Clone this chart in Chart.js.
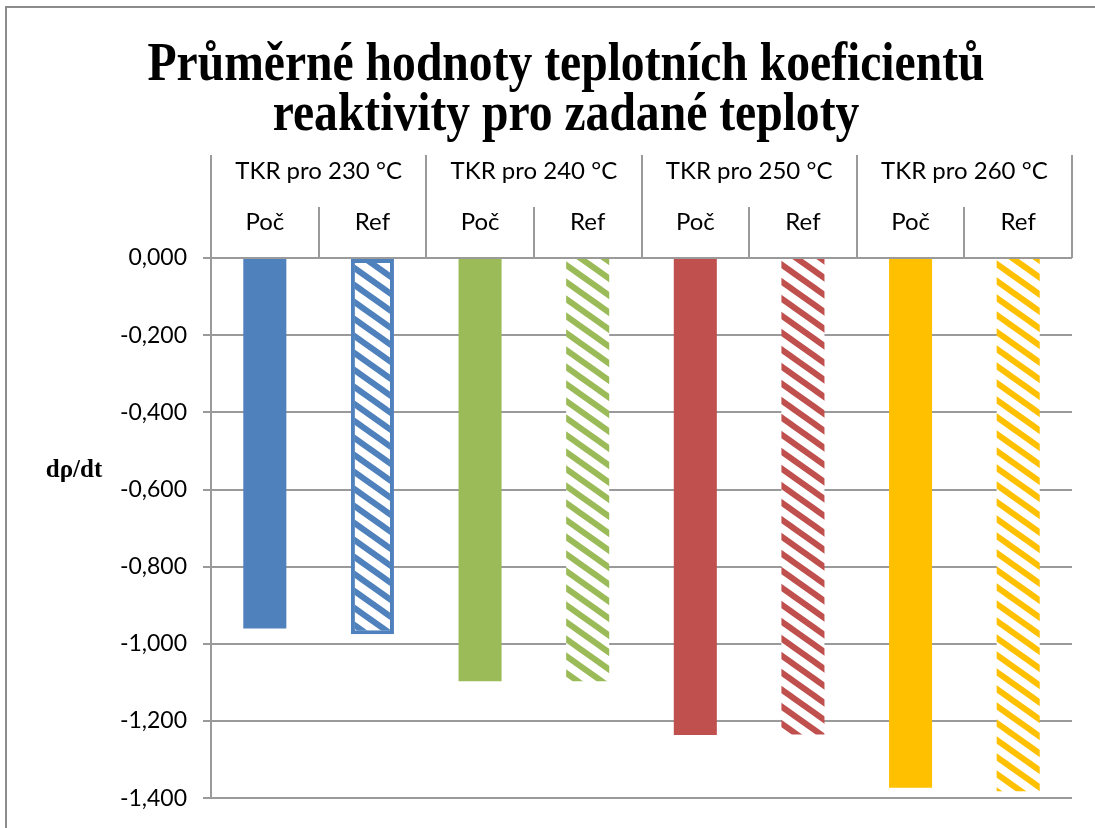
<!DOCTYPE html>
<html>
<head>
<meta charset="utf-8">
<script src="https://cdn.jsdelivr.net/npm/chart.js@4/dist/chart.umd.min.js"></script>
<style>
  html, body { margin:0; padding:0; background:#fff; }
  #wrap { position:relative; width:1095px; height:828px; }
</style>
</head>
<body>
<div id="wrap"><canvas id="c" width="1095" height="828"></canvas></div>
<script>
// ===== data =====
const titleLines = ['Průměrné hodnoty teplotních koeficientů', 'reaktivity pro zadané teploty'];
const yTitle = 'dρ/dt';
const groups = ['TKR pro 230 °C', 'TKR pro 240 °C', 'TKR pro 250 °C', 'TKR pro 260 °C'];
const series = ['Poč', 'Ref'];
const pocValues = [-0.960, -1.097, -1.236, -1.373];
const refValues = [-0.975, -1.097, -1.235, -1.382];
const groupColors = ['#4f81bd', '#9bbb59', '#c0504d', '#ffc000'];
const yMin = -1.4, yMax = 0, yStep = 0.2;

// diagonal hatch like Excel's wide downward diagonal
function hatch(color){
  const w = 24, h = 17;
  const cv = document.createElement('canvas');
  cv.width = w; cv.height = h;
  const g = cv.getContext('2d');
  g.fillStyle = '#fff'; g.fillRect(0,0,w,h);
  g.strokeStyle = color; g.lineWidth = 6;
  g.beginPath();
  // lines run past the tile so butt caps don't leave gaps at the seams
  [-w, 0, w].forEach(k => { g.moveTo(k - w, -h); g.lineTo(k + 2 * w, 2 * h); });
  g.stroke();
  return g.createPattern(cv, 'repeat');
}

const labels = [], values = [], fills = [], borders = [], bWidths = [];
groups.forEach((grp, i) => {
  labels.push(series[0]); values.push(pocValues[i]); fills.push(groupColors[i]);
  borders.push(groupColors[i]); bWidths.push(0);
  labels.push(series[1]); values.push(refValues[i]); fills.push(hatch(groupColors[i]));
  borders.push(groupColors[i]); bWidths.push(i === 0 ? 4 : 0);
});

const fmt = v => (Math.round(v * 1000) / 1000).toFixed(3).replace('.', ',').replace('-0,000', '0,000');
const AX = '#9a9a9a';

// title, y label, frame and the top category boxes
const decor = {
  id: 'decor',
  afterDraw(chart){
    const ctx = chart.ctx, a = chart.chartArea, x = chart.scales.x, x2 = chart.scales.x2;
    ctx.save();
    // frame
    ctx.strokeStyle = '#8c8c8c'; ctx.lineWidth = 2;
    ctx.beginPath(); ctx.moveTo(6, 828); ctx.lineTo(6, 7); ctx.lineTo(1095, 7); ctx.stroke();

    // category boxes
    const w = x.getPixelForValue(1) - x.getPixelForValue(0);
    const x0 = x.getPixelForValue(0) - w / 2;
    ctx.strokeStyle = AX; ctx.lineWidth = 2;
    ctx.beginPath();
    for (let k = 0; k <= labels.length; k++){
      const px = Math.round(x0 + k * w);
      ctx.moveTo(px, k % 2 === 0 ? x2.top : x.top);
      ctx.lineTo(px, a.top);
    }
    ctx.stroke();

    // title
    ctx.fillStyle = '#000';
    ctx.textAlign = 'center'; ctx.textBaseline = 'alphabetic';
    ctx.font = 'bold 54px "Liberation Serif", "Times New Roman", serif';
    const sx = 837 / ctx.measureText(titleLines[0]).width;
    [80, 130].forEach((base, i) => {
      ctx.save(); ctx.translate(566, base); ctx.scale(sx, 1);
      ctx.fillText(titleLines[i], 0, 0);
      ctx.restore();
    });

    // y axis title (horizontal)
    ctx.font = 'bold 25px "Liberation Serif", "Times New Roman", serif';
    ctx.textAlign = 'center'; ctx.textBaseline = 'middle';
    ctx.fillText(yTitle, 74, 471);
    ctx.restore();
  }
};

new Chart(document.getElementById('c').getContext('2d'), {
  type: 'bar',
  data: {
    labels: labels,
    datasets: [{
      data: values,
      backgroundColor: fills,
      borderColor: borders,
      borderWidth: bWidths,
      borderSkipped: false,
      barPercentage: 0.4,
      categoryPercentage: 1
    }]
  },
  options: {
    responsive: false,
    animation: false,
    layout: { padding: { top: 155, left: 0, right: 23, bottom: 26 } },
    plugins: { legend: { display: false }, title: { display: false }, tooltip: { enabled: false } },
    scales: {
      x: {
        type: 'category', position: 'top', weight: 0,
        grid: { display: false, drawTicks: false },
        border: { display: false },
        ticks: { color: '#000', padding: 21, maxRotation: 0, autoSkip: false,
                 font: { family: 'Lato, "Open Sans", sans-serif', size: 24 } },
        afterFit: s => { s.height = 51; }
      },
      x2: {
        type: 'category', position: 'top', weight: 1, labels: groups,
        grid: { display: false, drawTicks: false },
        border: { display: false },
        ticks: { color: '#000', padding: 21, maxRotation: 0, autoSkip: false,
                 font: { family: 'Lato, "Open Sans", sans-serif', size: 24 } },
        afterFit: s => { s.height = 52; }
      },
      y: {
        min: yMin, max: yMax,
        grid: { color: AX, lineWidth: 2, tickLength: 8, drawTicks: true },
        border: { display: true, color: AX, width: 2 },
        ticks: { stepSize: yStep, color: '#000', padding: 16, callback: v => fmt(v),
                 font: { family: 'Lato, "Open Sans", sans-serif', size: 23 } },
        afterFit: s => { s.width = 211; }
      }
    }
  },
  plugins: [decor]
});
</script>
</body>
</html>
